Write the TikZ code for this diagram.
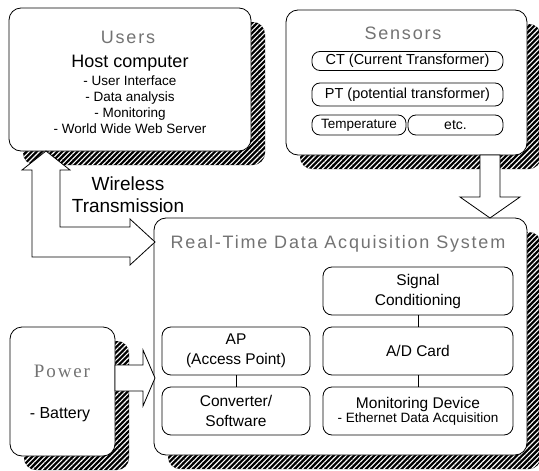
\documentclass[tikz,border=0pt]{standalone}
\usepackage{fontspec}
\setmainfont{Liberation Sans}
\newfontfamily\titlefont[LetterSpace=10]{Liberation Sans}
\newfontfamily\powerfont[LetterSpace=10]{Liberation Serif}
\usetikzlibrary{shadows}
\usetikzlibrary{patterns.meta}

\begin{document}
\begin{tikzpicture}[x=1pt,y=-1pt]
		\tikzset{panel/.style = {draw, rounded corners=12pt, fill=white, line width=0.8pt,
				general shadow={shadow xshift=14pt, shadow yshift=-14pt, fill=black},
				general shadow={shadow xshift=14pt, shadow yshift=-14pt,
					pattern={Lines[angle=45,distance=3.6pt,line width=1.1pt]}, pattern color=white}}}
		\tikzset{unit/.style = {draw, rounded corners=9pt, fill=white, line width=0.8pt,
				align=center, inner sep=0pt, font=\fontsize{15.5}{20}\selectfont}}
		\tikzset{headline/.style = {font=\titlefont\fontsize{18}{20}\selectfont, text=black!55, anchor=base}}
		\tikzset{block/.style = {draw, fill=white, line width=0.8pt, line join=miter}}
		\useasboundingbox (0,0) rectangle (539,471);
		% panels
		\node[panel, minimum width=242pt, minimum height=143pt] (users) at (130,79.5) {};
		\node[panel, minimum width=241pt, minimum height=145pt] (sensors) at (406.5,82.5) {};
		\node[panel, minimum width=373pt, minimum height=237pt] (rt) at (340.5,336.5) {};
		\node[panel, minimum width=105pt, minimum height=129pt] (power) at (62.5,391.5) {};
		% users
		\node[headline] (userstitle) at (128,43) {Users};
		\node[font=\fontsize{18}{20}\selectfont, anchor=base] (hostname) at (130,67) {Host computer};
		\node[font=\fontsize{13.5}{16}\selectfont, align=center] (hostjobs) at (130,105)
			{- User Interface\\- Data analysis\\- Monitoring\\- World Wide Web Server};
		% sensors
		\node[headline] (sensorstitle) at (403,39) {Sensors};
		\node[unit, rounded corners=8pt, font=\fontsize{14.5}{16}\selectfont,
			minimum width=191pt, minimum height=19pt] (ct) at (407.5,61) {CT (Current Transformer)};
		\node[unit, rounded corners=8pt, font=\fontsize{14.5}{16}\selectfont,
			minimum width=191pt, minimum height=23pt] (pt) at (407.5,94.5) {PT (potential transformer)};
		\node[unit, rounded corners=8pt, font=\fontsize{13.5}{16}\selectfont,
			minimum width=94pt, minimum height=20pt] (temp) at (359,125) {Temperature};
		\node[unit, rounded corners=8pt, font=\fontsize{14}{16}\selectfont,
			minimum width=95pt, minimum height=20pt] (etc) at (455.5,125) {etc.};
		% acquisition system
		\node[headline] (rttitle) at (338,248) {Real-Time Data Acquisition System};
		\node[unit, minimum width=190pt, minimum height=48pt] (sig) at (418,291) {Signal\\Conditioning};
		\node[unit, minimum width=190pt, minimum height=48pt] (adc) at (418,351) {A/D Card};
		\node[unit, minimum width=190pt, minimum height=48pt, font=\fontsize{15.5}{14}\selectfont] (mon) at (418,411)
			{Monitoring Device\\{\fontsize{13.5}{14}\selectfont - Ethernet Data Acquisition}};
		\node[unit, minimum width=148pt, minimum height=48pt] (ap) at (236,351) {AP\\(Access Point)};
		\node[unit, minimum width=148pt, minimum height=48pt] (conv) at (236,411) {Converter/\\Software};
		\draw[line width=0.8pt] (sig) -- (adc);
		\draw[line width=0.8pt] (adc) -- (mon);
		\draw[line width=0.8pt] (ap) -- (conv);
		% power
		\node[headline, font=\powerfont\fontsize{19}{20}\selectfont] (powertitle) at (62,377) {Power};
		\node[font=\fontsize{16}{18}\selectfont, anchor=base] (battery) at (60,418) {- Battery};
		% block arrows
		\node[font=\fontsize{19}{22}\selectfont, align=center] (wlabel) at (128,194.5) {Wireless\\Transmission};
		\coordinate (wtip) at (46,151);
		\coordinate (wend) at (155,242);
		\coordinate (stip) at (490,218);
		\coordinate (ptip) at (155,378);
		\draw[block] (wtip) -- ++(24,19) -- ++(-10,0) -- ++(0,57) -- ++(70,0) -- ++(0,-8) -- (wend)
			-- ++(-25,23) -- ++(0,-8) -- ++(-98,0) -- ++(0,-87) -- ++(-10,0) -- cycle;
		\draw[block] (stip) -- ++(-30,-21) -- ++(20,0) -- ++(0,-42) -- ++(20,0) -- ++(0,42) -- ++(20,0) -- cycle;
		\draw[block] (ptip) -- ++(-12,-28) -- ++(0,15) -- ++(-28,0) -- ++(0,26) -- ++(28,0) -- ++(0,15) -- cycle;
\end{tikzpicture}
\end{document}
